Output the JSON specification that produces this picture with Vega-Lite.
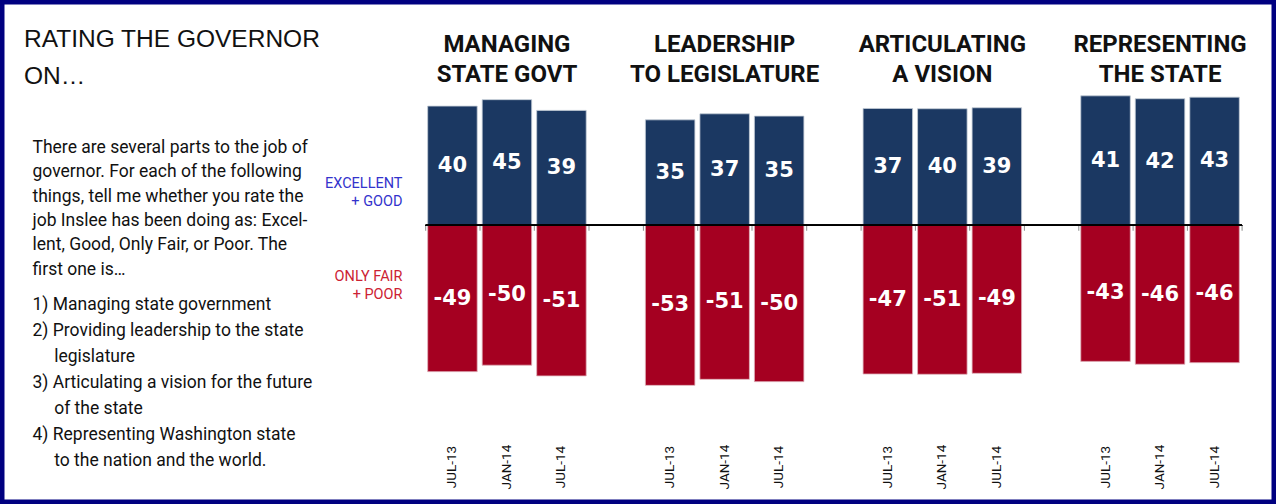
{
  "$schema": "https://vega.github.io/schema/vega-lite/v6.json",
  "width": 1276,
  "height": 504,
  "autosize": {"type": "none"},
  "padding": 0,
  "background": "white",
  "config": {
    "font": "Liberation Sans",
    "view": {"stroke": "#000080", "strokeWidth": 9}
  },
  "title": {
    "text": ["RATING THE GOVERNOR", "ON…"],
    "anchor": "start",
    "frame": "group",
    "orient": "top",
    "dx": 24,
    "offset": -89,
    "font": "Liberation Sans",
    "fontSize": 24.5,
    "fontWeight": "normal",
    "color": "#111111",
    "lineHeight": 37
  },
  "data": {
    "values": [
      {"group": "MANAGING\nSTATE GOVT", "period": "JUL-13", "good": 40, "poor": -49},
      {"group": "MANAGING\nSTATE GOVT", "period": "JAN-14", "good": 45, "poor": -50},
      {"group": "MANAGING\nSTATE GOVT", "period": "JUL-14", "good": 39, "poor": -51},
      {"group": "LEADERSHIP\nTO LEGISLATURE", "period": "JUL-13", "good": 35, "poor": -53},
      {"group": "LEADERSHIP\nTO LEGISLATURE", "period": "JAN-14", "good": 37, "poor": -51},
      {"group": "LEADERSHIP\nTO LEGISLATURE", "period": "JUL-14", "good": 35, "poor": -50},
      {"group": "ARTICULATING\nA VISION", "period": "JUL-13", "good": 37, "poor": -47},
      {"group": "ARTICULATING\nA VISION", "period": "JAN-14", "good": 40, "poor": -51},
      {"group": "ARTICULATING\nA VISION", "period": "JUL-14", "good": 39, "poor": -49},
      {"group": "REPRESENTING\nTHE STATE", "period": "JUL-13", "good": 41, "poor": -43},
      {"group": "REPRESENTING\nTHE STATE", "period": "JAN-14", "good": 42, "poor": -46},
      {"group": "REPRESENTING\nTHE STATE", "period": "JUL-14", "good": 43, "poor": -46}
    ]
  },
  "transform": [
    {"calculate": "datum.good / (datum.good - datum.poor)", "as": "g"},
    {"calculate": "datum.poor / (datum.good - datum.poor)", "as": "p"},
    {"calculate": "datum.g / 2", "as": "gm"},
    {"calculate": "datum.p / 2", "as": "pm"}
  ],
  "layer": [
    {
      "mark": {"type": "bar", "color": "#1b3862", "stroke": "#c3cbd6", "strokeWidth": 0.8},
      "encoding": {
        "x": {
          "field": "group", "type": "nominal", "sort": null,
          "scale": {"paddingInner": 0.1387, "paddingOuter": 1, "align": 0.949},
          "axis": {
            "labels": false, "ticks": false, "domain": false, "grid": false,
            "title": [
              "1) Managing state government",
              "2) Providing leadership to the state",
              "\u200b\u00a0\u00a0\u00a0\u00a0\u00a0legislature",
              "3) Articulating a vision for the future",
              "\u200b\u00a0\u00a0\u00a0\u00a0\u00a0of the state",
              "4) Representing Washington state",
              "\u200b\u00a0\u00a0\u00a0\u00a0\u00a0to the nation and the world."
            ],
            "titleAngle": 0, "titleAlign": "left", "titleBaseline": "top",
            "titleX": 32, "titleY": -209,
            "titleFont": "Roboto", "titleFontSize": 17.5, "titleFontWeight": "normal",
            "titleLineHeight": 26, "titleColor": "#111111"
          }
        },
        "xOffset": {"field": "period", "type": "nominal", "sort": ["JUL-13", "JAN-14", "JUL-14"], "scale": {"paddingInner": 0.0917, "paddingOuter": 0.2659}},
        "y": {
          "field": "g", "type": "quantitative",
          "scale": {"domain": [-1.049, 0.849], "nice": false, "zero": false},
          "axis": {
            "values": [0.1585, -0.1932],
            "labelExpr": "datum.value > 0 ? ['EXCELLENT', '+ GOOD'] : ['ONLY FAIR', '+ POOR']",
            "labelColor": {"condition": {"test": "datum.value > 0", "value": "#3333cc"}, "value": "#cc2233"},
            "labelFont": "Roboto", "labelFontSize": 14.5, "labelLineHeight": 18,
            "labelAlign": "right", "labelBaseline": "middle", "labelPadding": 23,
            "labelOverlap": false, "labelFlush": false,
            "offset": -425, "domain": false, "ticks": false, "grid": false,
            "title": [
              "There are several parts to the job of",
              "governor. For each of the following",
              "things, tell me whether you rate the",
              "job Inslee has been doing as: Excel-",
              "lent, Good, Only Fair, or Poor.  The",
              "first one is…"
            ],
            "titleAngle": 0, "titleAlign": "left", "titleBaseline": "top",
            "titleX": -393, "titleY": 138.5,
            "titleFont": "Roboto", "titleFontSize": 17.5, "titleFontWeight": "normal",
            "titleLineHeight": 24.3, "titleColor": "#111111"
          }
        },
        "y2": {"datum": 0}
      }
    },
    {
      "mark": {"type": "bar", "color": "#a50021", "stroke": "#e0b3bb", "strokeWidth": 0.8},
      "encoding": {
        "x": {"field": "group", "type": "nominal", "sort": null},
        "xOffset": {"field": "period", "type": "nominal", "sort": ["JUL-13", "JAN-14", "JUL-14"]},
        "y": {"field": "p", "type": "quantitative"},
        "y2": {"datum": 0}
      }
    },
    {
      "transform": [{"aggregate": [{"op": "count", "as": "n"}], "groupby": ["group"]}],
      "mark": {"type": "rule", "color": "#8c8c8c", "strokeWidth": 1},
      "encoding": {
        "x": {"field": "group", "type": "nominal", "sort": null, "bandPosition": 0.0667},
        "y": {"datum": 0, "type": "quantitative"},
        "y2": {"datum": -0.02}
      }
    },
    {
      "transform": [{"aggregate": [{"op": "count", "as": "n"}], "groupby": ["group"]}],
      "mark": {"type": "rule", "color": "#8c8c8c", "strokeWidth": 1},
      "encoding": {
        "x": {"field": "group", "type": "nominal", "sort": null, "bandPosition": 0.3563},
        "y": {"datum": 0, "type": "quantitative"},
        "y2": {"datum": -0.02}
      }
    },
    {
      "transform": [{"aggregate": [{"op": "count", "as": "n"}], "groupby": ["group"]}],
      "mark": {"type": "rule", "color": "#8c8c8c", "strokeWidth": 1},
      "encoding": {
        "x": {"field": "group", "type": "nominal", "sort": null, "bandPosition": 0.6459},
        "y": {"datum": 0, "type": "quantitative"},
        "y2": {"datum": -0.02}
      }
    },
    {
      "transform": [{"aggregate": [{"op": "count", "as": "n"}], "groupby": ["group"]}],
      "mark": {"type": "rule", "color": "#8c8c8c", "strokeWidth": 1},
      "encoding": {
        "x": {"field": "group", "type": "nominal", "sort": null, "bandPosition": 0.9376},
        "y": {"datum": 0, "type": "quantitative"},
        "y2": {"datum": -0.02}
      }
    },
    {
      "mark": {"type": "rule", "color": "#000000", "strokeWidth": 1.3},
      "encoding": {
        "x": {"datum": "MANAGING\nSTATE GOVT", "type": "nominal", "bandPosition": 0.0667},
        "x2": {"datum": "REPRESENTING\nTHE STATE", "bandPosition": 0.9376},
        "y": {"datum": 0, "type": "quantitative"}
      }
    },
    {
      "mark": {"type": "text", "color": "white", "font": "DejaVu Sans", "fontWeight": "bold", "fontSize": 21, "align": "center", "baseline": "middle"},
      "encoding": {
        "x": {"field": "group", "type": "nominal", "sort": null},
        "xOffset": {"field": "period", "type": "nominal", "sort": ["JUL-13", "JAN-14", "JUL-14"]},
        "y": {"field": "gm", "type": "quantitative"},
        "text": {"field": "good", "type": "nominal"}
      }
    },
    {
      "mark": {"type": "text", "color": "white", "font": "DejaVu Sans", "fontWeight": "bold", "fontSize": 21, "align": "center", "baseline": "middle"},
      "encoding": {
        "x": {"field": "group", "type": "nominal", "sort": null},
        "xOffset": {"field": "period", "type": "nominal", "sort": ["JUL-13", "JAN-14", "JUL-14"]},
        "y": {"field": "pm", "type": "quantitative"},
        "text": {"field": "poor", "type": "nominal"}
      }
    },
    {
      "mark": {"type": "text", "color": "#111111", "font": "Roboto", "fontSize": 13.5, "angle": 270, "align": "center", "baseline": "middle"},
      "encoding": {
        "x": {"field": "group", "type": "nominal", "sort": null},
        "xOffset": {"field": "period", "type": "nominal", "sort": ["JUL-13", "JAN-14", "JUL-14"]},
        "y": {"datum": -0.91, "type": "quantitative"},
        "text": {"field": "period", "type": "nominal"}
      }
    },
    {
      "transform": [{"aggregate": [{"op": "count", "as": "n"}], "groupby": ["group"]}],
      "mark": {"type": "text", "color": "#111111", "font": "Roboto", "fontWeight": "bold", "fontSize": 24, "align": "center", "baseline": "top", "lineBreak": "\n", "lineHeight": 30},
      "encoding": {
        "x": {"field": "group", "type": "nominal", "sort": null},
        "y": {"datum": 0.7236, "type": "quantitative"},
        "text": {"field": "group", "type": "nominal"}
      }
    }
  ]
}
